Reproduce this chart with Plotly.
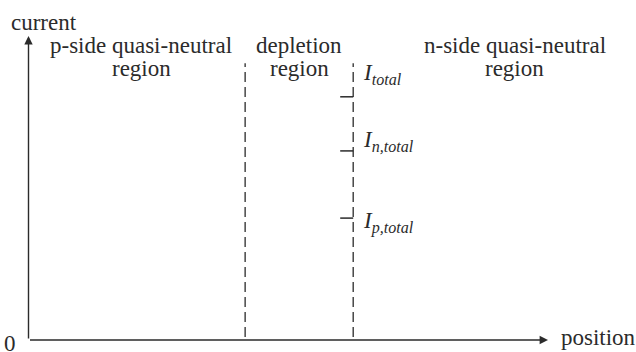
import plotly.graph_objects as go

# region labels (two lines each) and where they sit along the position axis
region_line1 = ["p-side quasi-neutral", "depletion", "n-side quasi-neutral"]
region_line2 = ["region", "region", "region"]
region_label_x = [21.75, 52.1, 93.6]

# boundaries of the depletion region (position units, origin = 0, axis tip = 100)
boundary_x = [41.7, 62.5]
boundary_top = 91.0

# current levels marked on the right-hand boundary
current_names = ["<i>I</i><sub><i>total</i></sub>",
                 "<i>I</i><sub><i>n,total</i></sub>",
                 "<i>I</i><sub><i>p,total</i></sub>"]
current_levels = [80.0, 62.2, 40.1]
current_label_y = [87.5, 65.5, 38.5]

INK = "#2b2b2b"
FONT = "Times New Roman, Liberation Serif, serif"

W, H = 636, 352
X0, Y0 = 28.5, 340.0      # pixel position of the origin
SX, SY = 5.195, 3.04      # pixels per unit

fig = go.Figure()

# dashed boundaries
for bx in boundary_x:
    fig.add_trace(go.Scatter(
        x=[bx, bx], y=[1.0, boundary_top],
        mode="lines",
        line=dict(color=INK, width=1.3, dash="10px,5px"),
        hoverinfo="skip", showlegend=False
    ))

# short ticks for each current level
for lvl in current_levels:
    fig.add_trace(go.Scatter(
        x=[boundary_x[1] - 2.5, boundary_x[1]], y=[lvl, lvl],
        mode="lines",
        line=dict(color=INK, width=1.5),
        hoverinfo="skip", showlegend=False
    ))

annotations = []

# axes with arrows
annotations.append(dict(x=100, y=0, ax=0, ay=0, xref="x", yref="y", axref="x", ayref="y",
                        showarrow=True, arrowhead=2, arrowsize=1.2, arrowwidth=1.4,
                        arrowcolor=INK, text=""))
annotations.append(dict(x=0, y=100, ax=0, ay=0, xref="x", yref="y", axref="x", ayref="y",
                        showarrow=True, arrowhead=2, arrowsize=1.2, arrowwidth=1.4,
                        arrowcolor=INK, text=""))

# axis labels
annotations.append(dict(x=-3.7, y=104.5, xref="x", yref="y", text="current",
                        showarrow=False, xanchor="left", yanchor="middle",
                        font=dict(family=FONT, size=23, color=INK)))
annotations.append(dict(x=102.2, y=0.8, xref="x", yref="y", text="position",
                        showarrow=False, xanchor="left", yanchor="middle",
                        font=dict(family=FONT, size=23, color=INK)))
annotations.append(dict(x=-3.5, y=-1.0, xref="x", yref="y", text="0",
                        showarrow=False, xanchor="center", yanchor="middle",
                        font=dict(family=FONT, size=23, color=INK)))

# region labels
for lx, l1, l2 in zip(region_label_x, region_line1, region_line2):
    annotations.append(dict(x=lx, y=97.0, xref="x", yref="y", text=l1, showarrow=False,
                            xanchor="center", yanchor="middle",
                            font=dict(family=FONT, size=23, color=INK)))
    annotations.append(dict(x=lx, y=89.4, xref="x", yref="y", text=l2, showarrow=False,
                            xanchor="center", yanchor="middle",
                            font=dict(family=FONT, size=23, color=INK)))

# current labels
for name, ly in zip(current_names, current_label_y):
    annotations.append(dict(x=boundary_x[1] + 1.5, y=ly, xref="x", yref="y", text=name,
                            showarrow=False, xanchor="left", yanchor="middle",
                            font=dict(family=FONT, size=23, color=INK)))

fig.update_layout(
    width=W, height=H,
    margin=dict(l=0, r=0, t=0, b=0),
    paper_bgcolor="white", plot_bgcolor="white",
    xaxis=dict(range=[-X0 / SX, (W - X0) / SX], visible=False, fixedrange=True),
    yaxis=dict(range=[-(H - Y0) / SY, Y0 / SY], visible=False, fixedrange=True),
    annotations=annotations,
    showlegend=False
)

# drop the browser's default page margin so the figure fills the window
fig.write_html("out.html", config={"displayModeBar": False},
               post_script="document.body.style.margin='0';")
